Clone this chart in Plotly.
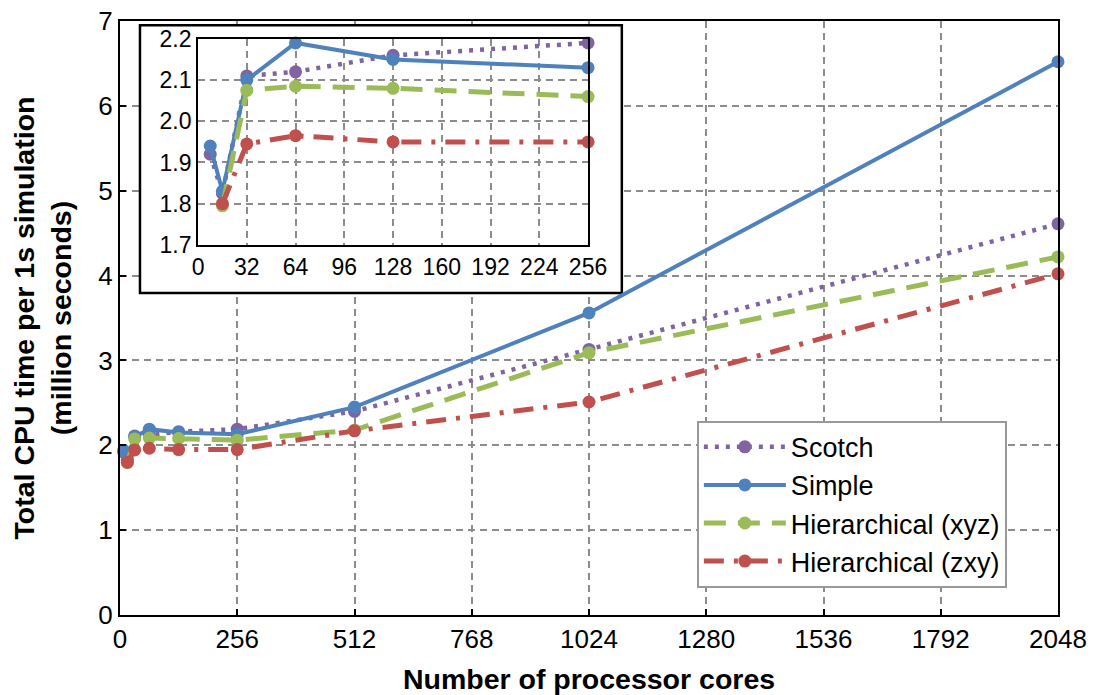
import plotly.graph_objects as go

# ---------------- data ----------------
cores = [8, 16, 32, 64, 128, 256, 512, 1024, 2048]
scotch = [1.92, 1.825, 2.11, 2.12, 2.16, 2.19, 2.40, 3.13, 4.61]
simple = [1.94, 1.83, 2.10, 2.19, 2.15, 2.13, 2.45, 3.56, 6.52]
hier_xyz = [None, 1.795, 2.075, 2.085, 2.08, 2.06, 2.18, 3.09, 4.22]
hier_zxy = [None, 1.80, 1.945, 1.965, 1.95, 1.95, 2.17, 2.51, 4.02]

series_names = ["Scotch", "Simple", "Hierarchical (xyz)", "Hierarchical (zxy)"]
main_xticks = [0, 256, 512, 768, 1024, 1280, 1536, 1792, 2048]
main_yticks = [0, 1, 2, 3, 4, 5, 6, 7]
inset_xticks = [0, 32, 64, 96, 128, 160, 192, 224, 256]
inset_yticks = [1.7, 1.8, 1.9, 2.0, 2.1, 2.2]
inset_max_cores = 256

# ---------------- styles ----------------
FONT = "Liberation Sans, Arial, sans-serif"
styles = [
    dict(color="#8064A2", dash="4px,7px", width=4.5),
    dict(color="#4F81BD", dash="solid", width=4),
    dict(color="#9BBB59", dash="22px,12px", width=5),
    dict(color="#C0504D", dash="20px,10px,4px,10px", width=5),
]
values = [scotch, simple, hier_xyz, hier_zxy]

fig = go.Figure()

for name, vals, st in zip(series_names, values, styles):
    fig.add_trace(go.Scatter(
        x=cores, y=vals, name=name, mode="lines+markers",
        line=dict(color=st["color"], dash=st["dash"], width=st["width"]),
        marker=dict(size=13, color=st["color"]),
        cliponaxis=False, connectgaps=False,
        xaxis="x", yaxis="y",
    ))

inset_idx = [i for i, c in enumerate(cores) if c <= inset_max_cores]
for name, vals, st in zip(series_names, values, styles):
    fig.add_trace(go.Scatter(
        x=[cores[i] for i in inset_idx], y=[vals[i] for i in inset_idx],
        name=name, mode="lines+markers", showlegend=False,
        line=dict(color=st["color"], dash=st["dash"], width=st["width"]),
        marker=dict(size=13, color=st["color"]),
        cliponaxis=False,
        xaxis="x2", yaxis="y2",
    ))

grid = dict(showgrid=True, gridcolor="#8c8c8c", gridwidth=1.5, griddash="7px,5px")

# inset frame (in main-axis fractions of the plot area)
box_x = [0.0213, 0.535]
box_y = [0.542, 0.993]
x_span = 2048
y_span = 7

fig.update_layout(
    width=1098, height=695,
    margin=dict(l=120, r=40, t=21, b=80, autoexpand=False),
    paper_bgcolor="white", plot_bgcolor="white",
    font=dict(family=FONT, color="black"),
    showlegend=True,
    legend=dict(
        x=0.615, y=0.327, xanchor="left", yanchor="top",
        bgcolor="white", bordercolor="#999999", borderwidth=2,
        font=dict(size=27, family=FONT), tracegroupgap=0,
        itemwidth=82,
    ),
    xaxis=dict(
        domain=[0, 1], range=[0, 2048], tickvals=main_xticks, automargin=False,
        tickfont=dict(size=26), showline=True, linecolor="black", linewidth=2,
        mirror=True, ticks="inside", ticklen=6, tickcolor="black", tickwidth=1.5,
        zeroline=False,
        title=dict(text="<b>Number of processor cores</b>", font=dict(size=28.5), standoff=16),
        **grid,
    ),
    yaxis=dict(
        domain=[0, 1], range=[0, 7], tickvals=main_yticks, automargin=False,
        tickfont=dict(size=26), showline=True, linecolor="black", linewidth=2,
        mirror=True, ticks="inside", ticklen=6, tickcolor="black", tickwidth=1.5,
        zeroline=False,
        title=dict(text="<b>Total CPU time per 1s simulation<br>(million seconds)</b>",
                   font=dict(size=28.5), standoff=18),
        **grid,
    ),
    xaxis2=dict(
        domain=[0.0832, 0.499], range=[0, 256], tickvals=inset_xticks,
        anchor="y2", tickfont=dict(size=23), showline=True, linecolor="black",
        linewidth=2, mirror=True, ticks="", zeroline=False, automargin=False, **grid,
    ),
    yaxis2=dict(
        domain=[0.623, 0.970], range=[1.7, 2.2], tickvals=inset_yticks,
        tickformat=".1f", anchor="x2", tickfont=dict(size=23), showline=True,
        linecolor="black", linewidth=2, mirror=True, ticks="", zeroline=False,
        automargin=False, **grid,
    ),
    shapes=[
        dict(type="rect", xref="x", yref="y",
             x0=box_x[0] * x_span, x1=box_x[1] * x_span,
             y0=box_y[0] * y_span, y1=box_y[1] * y_span,
             fillcolor="white", line=dict(color="black", width=2.5),
             layer="between"),
    ],
)

fig.write_html("out.html")
